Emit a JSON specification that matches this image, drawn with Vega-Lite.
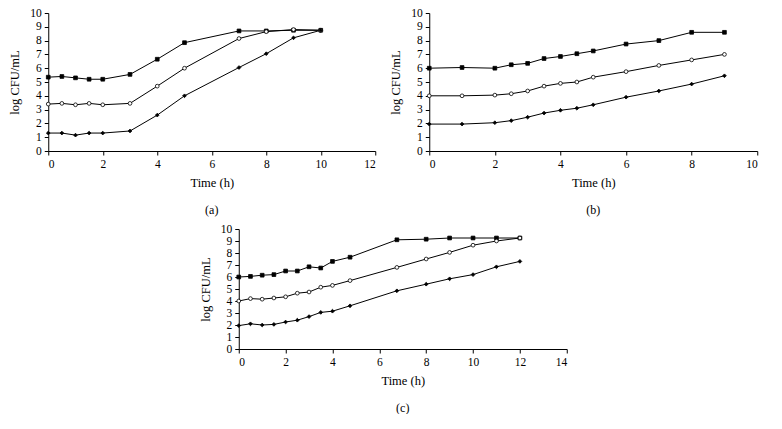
{
  "$schema": "https://vega.github.io/schema/vega-lite/v6.json",
  "usermeta": {"embedOptions": {"actions": false}},
  "background": "white",
  "padding": {"left": 8, "top": 7, "right": 3, "bottom": 0},
  "config": {
    "font": "Liberation Serif",
    "view": {"stroke": null},
    "axis": {"grid": false, "domainColor": "black", "tickColor": "black", "labelColor": "black", "titleColor": "black", "labelFont": "Liberation Serif", "titleFont": "Liberation Serif", "labelFontSize": 11.5, "titleFontSize": 12.5, "titleFontWeight": "normal", "tickSize": 4, "domainWidth": 1, "tickWidth": 1, "labelPadding": 3},
    "axisX": {"titlePadding": 7},
    "axisY": {"titlePadding": 8},
    "title": {"font": "Liberation Serif", "fontSize": 12, "fontWeight": "normal", "color": "black", "orient": "bottom", "offset": 16}
  },
  "datasets": {
    "a": [
      {"s": "top", "t": 0, "v": 5.35}, {"s": "top", "t": 0.5, "v": 5.4}, {"s": "top", "t": 1, "v": 5.3}, {"s": "top", "t": 1.5, "v": 5.2}, {"s": "top", "t": 2, "v": 5.2}, {"s": "top", "t": 3, "v": 5.55}, {"s": "top", "t": 4, "v": 6.65}, {"s": "top", "t": 5, "v": 7.85}, {"s": "top", "t": 7, "v": 8.7}, {"s": "top", "t": 8, "v": 8.7}, {"s": "top", "t": 9, "v": 8.75}, {"s": "top", "t": 10, "v": 8.75},
      {"s": "mid", "t": 0, "v": 3.4}, {"s": "mid", "t": 0.5, "v": 3.45}, {"s": "mid", "t": 1, "v": 3.35}, {"s": "mid", "t": 1.5, "v": 3.45}, {"s": "mid", "t": 2, "v": 3.35}, {"s": "mid", "t": 3, "v": 3.45}, {"s": "mid", "t": 4, "v": 4.7}, {"s": "mid", "t": 5, "v": 6.0}, {"s": "mid", "t": 7, "v": 8.15}, {"s": "mid", "t": 8, "v": 8.65}, {"s": "mid", "t": 9, "v": 8.8}, {"s": "mid", "t": 10, "v": 8.75},
      {"s": "low", "t": 0, "v": 1.3}, {"s": "low", "t": 0.5, "v": 1.3}, {"s": "low", "t": 1, "v": 1.15}, {"s": "low", "t": 1.5, "v": 1.3}, {"s": "low", "t": 2, "v": 1.3}, {"s": "low", "t": 3, "v": 1.45}, {"s": "low", "t": 4, "v": 2.6}, {"s": "low", "t": 5, "v": 4.0}, {"s": "low", "t": 7, "v": 6.05}, {"s": "low", "t": 8, "v": 7.05}, {"s": "low", "t": 9, "v": 8.2}, {"s": "low", "t": 10, "v": 8.75}
    ],
    "b": [
      {"s": "top", "t": 0, "v": 6.0}, {"s": "top", "t": 1, "v": 6.05}, {"s": "top", "t": 2, "v": 6.0}, {"s": "top", "t": 2.5, "v": 6.25}, {"s": "top", "t": 3, "v": 6.35}, {"s": "top", "t": 3.5, "v": 6.7}, {"s": "top", "t": 4, "v": 6.85}, {"s": "top", "t": 4.5, "v": 7.05}, {"s": "top", "t": 5, "v": 7.25}, {"s": "top", "t": 6, "v": 7.75}, {"s": "top", "t": 7, "v": 8.0}, {"s": "top", "t": 8, "v": 8.6}, {"s": "top", "t": 9, "v": 8.6},
      {"s": "mid", "t": 0, "v": 4.0}, {"s": "mid", "t": 1, "v": 4.0}, {"s": "mid", "t": 2, "v": 4.05}, {"s": "mid", "t": 2.5, "v": 4.15}, {"s": "mid", "t": 3, "v": 4.35}, {"s": "mid", "t": 3.5, "v": 4.7}, {"s": "mid", "t": 4, "v": 4.9}, {"s": "mid", "t": 4.5, "v": 5.0}, {"s": "mid", "t": 5, "v": 5.35}, {"s": "mid", "t": 6, "v": 5.75}, {"s": "mid", "t": 7, "v": 6.2}, {"s": "mid", "t": 8, "v": 6.6}, {"s": "mid", "t": 9, "v": 7.0},
      {"s": "low", "t": 0, "v": 1.95}, {"s": "low", "t": 1, "v": 1.95}, {"s": "low", "t": 2, "v": 2.05}, {"s": "low", "t": 2.5, "v": 2.2}, {"s": "low", "t": 3, "v": 2.45}, {"s": "low", "t": 3.5, "v": 2.75}, {"s": "low", "t": 4, "v": 2.95}, {"s": "low", "t": 4.5, "v": 3.1}, {"s": "low", "t": 5, "v": 3.35}, {"s": "low", "t": 6, "v": 3.9}, {"s": "low", "t": 7, "v": 4.35}, {"s": "low", "t": 8, "v": 4.85}, {"s": "low", "t": 9, "v": 5.45}
    ],
    "c": [
      {"s": "top", "t": 0, "v": 6.0}, {"s": "top", "t": 0.5, "v": 6.05}, {"s": "top", "t": 1, "v": 6.15}, {"s": "top", "t": 1.5, "v": 6.2}, {"s": "top", "t": 2, "v": 6.5}, {"s": "top", "t": 2.5, "v": 6.5}, {"s": "top", "t": 3, "v": 6.85}, {"s": "top", "t": 3.5, "v": 6.75}, {"s": "top", "t": 4, "v": 7.3}, {"s": "top", "t": 4.75, "v": 7.65}, {"s": "top", "t": 6.75, "v": 9.1}, {"s": "top", "t": 8, "v": 9.15}, {"s": "top", "t": 9, "v": 9.25}, {"s": "top", "t": 10, "v": 9.25}, {"s": "top", "t": 11, "v": 9.25}, {"s": "top", "t": 12, "v": 9.25},
      {"s": "mid", "t": 0, "v": 4.0}, {"s": "mid", "t": 0.5, "v": 4.2}, {"s": "mid", "t": 1, "v": 4.15}, {"s": "mid", "t": 1.5, "v": 4.25}, {"s": "mid", "t": 2, "v": 4.35}, {"s": "mid", "t": 2.5, "v": 4.65}, {"s": "mid", "t": 3, "v": 4.75}, {"s": "mid", "t": 3.5, "v": 5.15}, {"s": "mid", "t": 4, "v": 5.3}, {"s": "mid", "t": 4.75, "v": 5.7}, {"s": "mid", "t": 6.75, "v": 6.8}, {"s": "mid", "t": 8, "v": 7.5}, {"s": "mid", "t": 9, "v": 8.05}, {"s": "mid", "t": 10, "v": 8.65}, {"s": "mid", "t": 11, "v": 9.0}, {"s": "mid", "t": 12, "v": 9.25},
      {"s": "low", "t": 0, "v": 1.95}, {"s": "low", "t": 0.5, "v": 2.1}, {"s": "low", "t": 1, "v": 2.0}, {"s": "low", "t": 1.5, "v": 2.05}, {"s": "low", "t": 2, "v": 2.25}, {"s": "low", "t": 2.5, "v": 2.4}, {"s": "low", "t": 3, "v": 2.7}, {"s": "low", "t": 3.5, "v": 3.05}, {"s": "low", "t": 4, "v": 3.15}, {"s": "low", "t": 4.75, "v": 3.6}, {"s": "low", "t": 6.75, "v": 4.85}, {"s": "low", "t": 8, "v": 5.4}, {"s": "low", "t": 9, "v": 5.85}, {"s": "low", "t": 10, "v": 6.2}, {"s": "low", "t": 11, "v": 6.85}, {"s": "low", "t": 12, "v": 7.3}
    ]
  },
  "center": true,
  "spacing": 7,
  "vconcat": [
    {
      "spacing": 13,
      "hconcat": [
        {
          "data": {"name": "a"},
          "width": 327, "height": 138,
          "title": {"text": "(a)"},
          "encoding": {
            "x": {"field": "t", "type": "quantitative", "scale": {"domain": [0, 12], "nice": false}, "axis": {"values": [0, 2, 4, 6, 8, 10, 12], "title": "Time (h)"}},
            "y": {"field": "v", "type": "quantitative", "scale": {"domain": [0, 10], "nice": false}, "axis": {"values": [0, 1, 2, 3, 4, 5, 6, 7, 8, 9, 10], "title": "log CFU/mL"}}
          },
          "layer": [
            {"mark": {"type": "line", "color": "black", "strokeWidth": 1}, "encoding": {"detail": {"field": "s"}}},
            {"mark": {"type": "point", "filled": true, "stroke": "black", "strokeWidth": 0.8, "size": 14, "opacity": 1},
             "encoding": {
               "shape": {"field": "s", "scale": {"domain": ["top", "mid", "low"], "range": ["square", "circle", "diamond"]}, "legend": null},
               "fill": {"field": "s", "scale": {"domain": ["top", "mid", "low"], "range": ["black", "white", "black"]}, "legend": null}
             }}
          ]
        },
        {
          "data": {"name": "b"},
          "width": 328, "height": 138,
          "title": {"text": "(b)"},
          "encoding": {
            "x": {"field": "t", "type": "quantitative", "scale": {"domain": [0, 10], "nice": false}, "axis": {"values": [0, 2, 4, 6, 8, 10], "title": "Time (h)"}},
            "y": {"field": "v", "type": "quantitative", "scale": {"domain": [0, 10], "nice": false}, "axis": {"values": [0, 1, 2, 3, 4, 5, 6, 7, 8, 9, 10], "title": "log CFU/mL"}}
          },
          "layer": [
            {"mark": {"type": "line", "color": "black", "strokeWidth": 1}, "encoding": {"detail": {"field": "s"}}},
            {"mark": {"type": "point", "filled": true, "stroke": "black", "strokeWidth": 0.8, "size": 14, "opacity": 1},
             "encoding": {
               "shape": {"field": "s", "scale": {"domain": ["top", "mid", "low"], "range": ["square", "diamond", "diamond"]}, "legend": null},
               "fill": {"field": "s", "scale": {"domain": ["top", "mid", "low"], "range": ["black", "white", "black"]}, "legend": null}
             }}
          ]
        }
      ]
    },
    {
      "data": {"name": "c"},
      "width": 328, "height": 120,
      "title": {"text": "(c)"},
      "encoding": {
        "x": {"field": "t", "type": "quantitative", "scale": {"domain": [0, 14], "nice": false}, "axis": {"values": [0, 2, 4, 6, 8, 10, 12, 14], "title": "Time (h)"}},
        "y": {"field": "v", "type": "quantitative", "scale": {"domain": [0, 10], "nice": false}, "axis": {"values": [0, 1, 2, 3, 4, 5, 6, 7, 8, 9, 10], "title": "log CFU/mL"}}
      },
      "layer": [
        {"mark": {"type": "line", "color": "black", "strokeWidth": 1}, "encoding": {"detail": {"field": "s"}}},
        {"mark": {"type": "point", "filled": true, "stroke": "black", "strokeWidth": 0.8, "size": 14, "opacity": 1},
         "encoding": {
           "shape": {"field": "s", "scale": {"domain": ["top", "mid", "low"], "range": ["square", "diamond", "diamond"]}, "legend": null},
           "fill": {"field": "s", "scale": {"domain": ["top", "mid", "low"], "range": ["black", "white", "black"]}, "legend": null}
         }}
      ]
    }
  ]
}
